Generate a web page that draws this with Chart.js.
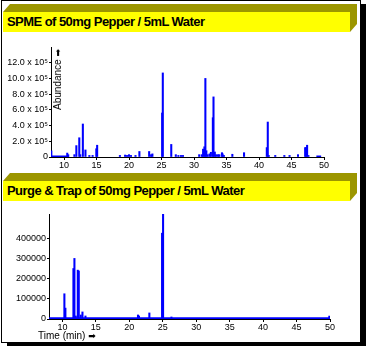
<!DOCTYPE html>
<html>
<head>
<meta charset="utf-8">
<script src="https://cdn.jsdelivr.net/npm/chart.js@4.4.1/dist/chart.umd.min.js"></script>
<style>
  body { margin:0; width:366px; height:346px; background:#fff; position:relative; overflow:hidden;
         font-family:"Liberation Sans", Arial, sans-serif; }
  .frame { position:absolute; left:1px; top:0; width:358px; height:341px; border:1px solid #000;
           background:#fff; box-shadow:6px 4px 0 #000; }
  .bar { position:absolute; left:3px; width:354px; height:28px; }
  .bar .olive { position:absolute; left:0; top:0; width:354px; height:28px; background:#9c9600;
                clip-path:polygon(7px 0, 354px 0, 354px 20px, 347px 28px, 0 8px); }
  .bar .yellow { position:absolute; left:0; top:8px; width:347px; height:20px; background:#ffff00;
                 font-weight:bold; font-size:13px; letter-spacing:-0.55px; line-height:19px;
                 padding-left:4px; box-sizing:border-box; color:#000; white-space:nowrap; }
  canvas { position:absolute; left:0; }
  .lbl { position:absolute; font-size:10px; line-height:12px; white-space:nowrap; color:#000; }
  .vert { writing-mode:vertical-rl; transform:rotate(180deg); }
  .arrow { font-family:"DejaVu Sans", sans-serif; font-size:9px; }
</style>
</head>
<body>
<div class="frame"></div>
<div class="bar" style="top:4px"><div class="olive"></div><div class="yellow">SPME of 50mg Pepper / 5mL Water</div></div>
<div class="bar" style="top:173px"><div class="olive"></div><div class="yellow">Purge &amp; Trap of 50mg Pepper / 5mL Water</div></div>
<canvas id="spme" width="340" height="136" style="top:36px"></canvas>
<canvas id="pt" width="345" height="130" style="top:205px"></canvas>
<div class="lbl vert" style="left:52px; top:49px">Abundance <span class="arrow">➡</span></div>
<div class="lbl" style="left:38px; top:330px">Time (min) <span class="arrow">➡</span></div>
<script>
// SPME run (retention time in min, abundance)
const spmeTime = [8.05, 10.5, 10.65, 11.6, 11.9, 12.35, 12.5, 12.9, 13.3, 13.9, 14.4, 14.97, 15.1,
  18.6, 19.4, 19.7, 20.0, 20.3, 21.0, 21.6, 23.1, 23.4, 23.6, 25.1, 25.2, 26.5, 27.2, 27.6, 28.0, 28.3,
  30.8, 31.2, 31.4, 31.6, 31.75, 31.9, 32.1, 32.4, 32.6, 32.9, 33.0, 33.2, 33.4, 33.7, 33.9,
  34.3, 34.4, 34.6, 35.9, 37.7, 41.2, 41.35, 41.5, 42.5, 43.9, 44.7, 46.0, 47.1, 47.25, 47.4, 47.6];
const spmeAbund = [80000, 50000, 30000, 30000, 145000, 245000, 30000, 420000, 90000, 20000, 20000, 105000, 150000,
  20000, 25000, 20000, 30000, 20000, 20000, 70000, 70000, 30000, 40000, 560000, 1070000, 160000, 30000, 20000, 20000, 20000,
  30000, 30000, 100000, 130000, 1000000, 80000, 30000, 40000, 60000, 500000, 765000, 64000, 30000, 30000, 30000,
  55000, 40000, 20000, 35000, 55000, 120000, 445000, 20000, 20000, 20000, 20000, 30000, 120000, 120000, 150000, 20000];
const spmeFloorFrom = [8.05, 48.8];
const spmeFloorTo = [10.8, 49.6];
const spmeFloorLevel = [20000, 20000];
const spmeXTicks = [10, 15, 20, 25, 30, 35, 40, 45, 50];
const spmeYTicks = [0, 200000, 400000, 600000, 800000, 1000000, 1200000];

// purge & trap run
const ptTime = [10.3, 10.45, 11.65, 11.8, 12.0, 12.3, 12.45, 12.75, 13.0, 13.45, 21.3, 21.45, 23.0, 24.9, 25.05, 26.3, 49.9];
const ptAbund = [125000, 54000, 250000, 300000, 15000, 242000, 238000, 20000, 35000, 15000, 20000, 15000, 30000, 425000, 520000, 10000, 14000];
const ptFloorFrom = [8];
const ptFloorTo = [50];
const ptFloorLevel = [9000];
const ptXTicks = [10, 15, 20, 25, 30, 35, 40, 45, 50];
const ptYTicks = [0, 100000, 200000, 300000, 400000];

const tickFont = {family: '"Liberation Sans", Arial, sans-serif', size: 9};

function drawChrom(id, times, abund, fFrom, fTo, fLevel, xTicks, yTicks, yMax, yFmt, yWidth, xHeight, pad) {
  const datasets = [{
    type: 'bar',
    data: times.map((t, i) => ({x: t, y: abund[i]})),
    backgroundColor: '#0000ff',
    barThickness: 1.4,
    borderWidth: 0
  }];
  fFrom.forEach((f, i) => datasets.push({
    type: 'line',
    data: [{x: f, y: fLevel[i]}, {x: fTo[i], y: fLevel[i]}],
    fill: 'origin', backgroundColor: '#0000ff', borderWidth: 0, pointRadius: 0
  }));
  return new Chart(document.getElementById(id), {
    type: 'bar',
    data: {datasets},
    options: {
      responsive: false, animation: false,
      layout: {padding: pad},
      plugins: {legend: {display: false}, tooltip: {enabled: false}},
      scales: {
        x: {
          type: 'linear', min: 8, max: 50, offset: false,
          afterBuildTicks: s => { s.ticks = xTicks.map(v => ({value: v})); },
          afterFit: s => { s.height = xHeight; },
          grid: {offset: false, drawOnChartArea: false, tickLength: 3, color: '#000'},
          border: {color: '#000'},
          ticks: {font: tickFont, color: '#000', padding: 0, maxRotation: 0, autoSkip: false}
        },
        y: {
          min: 0, max: yMax,
          afterBuildTicks: s => { s.ticks = yTicks.map(v => ({value: v})); },
          afterFit: s => { s.width = yWidth; },
          grid: {drawOnChartArea: false, tickLength: 2, color: '#000'},
          border: {color: '#000'},
          ticks: {font: tickFont, color: '#000', padding: 1, autoSkip: false, callback: yFmt}
        }
      }
    }
  });
}

drawChrom('spme', spmeTime, spmeAbund, spmeFloorFrom, spmeFloorTo, spmeFloorLevel, spmeXTicks, spmeYTicks, 1400000,
  v => v === 0 ? '0' : (v / 100000).toFixed(1) + ' x 10⁵', 51, 15, {top: 11, right: 16, left: 0, bottom: 0});
drawChrom('pt', ptTime, ptAbund, ptFloorFrom, ptFloorTo, ptFloorLevel, ptXTicks, ptYTicks, 520000,
  v => String(v), 49, 16, {top: 9, right: 15, left: 0, bottom: 0});
</script>
</body>
</html>
